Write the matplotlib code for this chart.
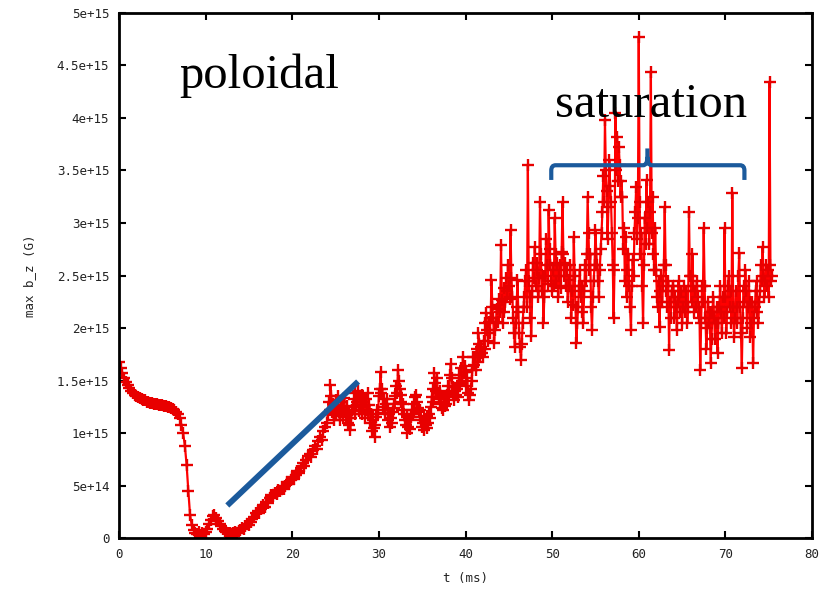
import numpy as np
import matplotlib
matplotlib.use('Agg')
from matplotlib import pyplot as plt
from matplotlib.path import Path
from matplotlib.patches import PathPatch

# max b_z in units of 1e15 G
# 0 .. 23.8 ms, sampled every 0.2 ms (one row per 2 ms)
bz_early = [
    1.68, 1.62, 1.57, 1.52, 1.49, 1.46, 1.43, 1.40, 1.38, 1.36,
    1.35, 1.34, 1.33, 1.32, 1.31, 1.31, 1.30, 1.30, 1.29, 1.29,
    1.28, 1.28, 1.28, 1.27, 1.27, 1.27, 1.26, 1.26, 1.25, 1.25,
    1.24, 1.23, 1.22, 1.20, 1.18, 1.14, 1.08, 1.00, 0.88, 0.70,
    0.45, 0.22, 0.12, 0.08, 0.05, 0.04, 0.06, 0.03, 0.05, 0.04,
    0.06, 0.09, 0.13, 0.17, 0.21, 0.22, 0.19, 0.16, 0.13, 0.11,
    0.09, 0.07, 0.06, 0.05, 0.05, 0.04, 0.05, 0.06, 0.05, 0.07,
    0.08, 0.10, 0.09, 0.11, 0.13, 0.12, 0.15, 0.18, 0.20, 0.24,
    0.26, 0.24, 0.28, 0.31, 0.30, 0.34, 0.33, 0.38, 0.41, 0.40,
    0.43, 0.42, 0.46, 0.45, 0.49, 0.47, 0.50, 0.53, 0.51, 0.55,
    0.58, 0.56, 0.60, 0.64, 0.62, 0.67, 0.71, 0.69, 0.74, 0.78,
    0.80, 0.77, 0.84, 0.88, 0.85, 0.92, 0.96, 0.93, 1.02, 1.06,
]
# 24.0 .. 75.4 ms, sampled every 0.1 ms (one row per 1 ms)
bz_late = [
    1.10, 1.18, 1.30, 1.22, 1.46, 1.35, 1.20, 1.28, 1.12, 1.24,
    1.31, 1.18, 1.27, 1.35, 1.20, 1.12, 1.25, 1.30, 1.16, 1.22,
    1.33, 1.20, 1.15, 1.26, 1.10, 1.18, 1.08, 1.03, 1.14, 1.22,
    1.25, 1.32, 1.18, 1.38, 1.26, 1.30, 1.40, 1.21, 1.34, 1.27,
    1.18, 1.36, 1.25, 1.30, 1.14, 1.32, 1.22, 1.38, 1.20, 1.27,
    1.10, 1.18, 1.02, 1.12, 1.05, 0.96, 1.08, 1.15, 1.22, 1.18,
    1.35, 1.42, 1.58, 1.38, 1.42, 1.25, 1.32, 1.19, 1.28, 1.32,
    1.22, 1.12, 1.18, 1.06, 1.14, 1.10, 1.20, 1.28, 1.24, 1.35,
    1.45, 1.38, 1.60, 1.50, 1.42, 1.30, 1.36, 1.22, 1.28, 1.18,
    1.12, 1.08, 1.15, 1.00, 1.06, 1.12, 1.04, 1.15, 1.22, 1.18,
    1.28, 1.22, 1.34, 1.36, 1.30, 1.24, 1.20, 1.15, 1.22, 1.12,
    1.06, 1.10, 1.03, 1.12, 1.08, 1.16, 1.05, 1.10, 1.18, 1.14,
    1.25, 1.34, 1.42, 1.30, 1.57, 1.48, 1.40, 1.52, 1.38, 1.32,
    1.40, 1.28, 1.35, 1.24, 1.22, 1.30, 1.26, 1.34, 1.28, 1.36,
    1.45, 1.38, 1.55, 1.66, 1.52, 1.44, 1.38, 1.31, 1.40, 1.36,
    1.42, 1.34, 1.48, 1.55, 1.46, 1.62, 1.50, 1.72, 1.58, 1.64,
    1.58, 1.45, 1.52, 1.38, 1.31, 1.36, 1.42, 1.50, 1.60, 1.72,
    1.65, 1.72, 1.60, 1.80, 1.68, 1.95, 1.85, 1.74, 1.82, 1.76,
    1.72, 1.88, 1.80, 2.05, 2.14, 1.98, 1.88, 2.06, 1.95, 2.10,
    2.46, 2.20, 2.10, 1.86, 1.98, 2.05, 2.18, 2.22, 2.06, 2.28,
    2.15, 2.79, 2.27, 2.05, 2.38, 2.15, 2.25, 2.48, 2.35, 2.60,
    2.40, 2.28, 2.93, 2.48, 2.30, 2.10, 1.95, 1.82, 2.05, 2.20,
    2.46, 2.15, 1.95, 1.82, 1.70, 1.85, 2.05, 2.20, 2.30, 2.45,
    2.55, 2.20, 3.55, 2.45, 2.30, 2.10, 1.92, 2.35, 2.62, 2.48,
    2.77, 2.40, 2.62, 2.55, 2.30, 2.48, 3.20, 2.70, 2.35, 2.50,
    2.05, 2.30, 2.50, 2.85, 2.60, 2.42, 3.12, 2.75, 2.60, 2.45,
    2.35, 2.55, 2.40, 3.05, 2.70, 2.45, 2.62, 2.30, 2.50, 2.60,
    2.38, 2.72, 3.20, 2.70, 2.50, 2.62, 2.40, 2.55, 2.25, 2.40,
    2.46, 2.60, 2.10, 2.35, 2.22, 2.87, 2.50, 2.20, 1.86, 2.05,
    2.20, 2.40, 2.55, 2.30, 2.40, 2.15, 2.05, 2.35, 2.60, 2.45,
    2.70, 3.25, 2.90, 2.55, 2.70, 2.20, 1.98, 2.30, 2.45, 2.60,
    2.93, 2.70, 2.60, 2.45, 2.30, 2.55, 2.75, 2.90, 3.10, 3.45,
    3.20, 3.98, 3.50, 3.30, 2.85, 3.15, 3.60, 3.35, 3.20, 2.90,
    2.60, 2.10, 2.55, 4.05, 3.50, 3.82, 3.40, 3.72, 3.55, 3.25,
    3.40, 3.25, 2.75, 2.95, 2.45, 2.87, 2.30, 2.55, 2.70, 2.40,
    2.20, 1.98, 2.40, 2.65, 2.50, 2.90, 3.10, 3.34, 2.85, 3.05,
    4.77, 3.20, 2.70, 2.90, 2.40, 2.05, 2.60, 3.05, 2.80, 3.41,
    2.95, 3.20, 2.80, 3.10, 4.44, 2.90, 3.25, 2.70, 2.55, 2.95,
    2.55, 2.30, 2.20, 2.45, 2.01, 2.35, 2.50, 2.25, 2.40, 2.60,
    3.15, 2.60, 2.35, 2.20, 2.45, 1.79, 2.25, 2.10, 2.35, 2.40,
    2.40, 2.10, 2.30, 2.20, 1.98, 2.25, 2.45, 2.30, 2.15, 2.35,
    2.05, 2.20, 2.40, 2.15, 2.25, 2.35, 2.05, 2.20, 3.10, 2.50,
    2.50, 2.25, 2.70, 2.40, 2.15, 2.35, 2.20, 2.45, 2.30, 2.10,
    2.20, 1.60, 2.05, 2.40, 2.25, 2.95, 2.40, 2.10, 1.80, 2.00,
    2.25, 2.05, 2.15, 1.67, 1.90, 2.15, 2.30, 2.10, 1.90, 2.05,
    2.20, 1.76, 2.05, 2.20, 2.40, 2.15, 1.95, 2.30, 2.10, 2.95,
    2.30, 1.95, 2.15, 2.40, 2.50, 2.20, 2.35, 2.05, 3.29, 2.20,
    1.91, 2.10, 2.35, 2.20, 2.05, 2.50, 2.71, 2.20, 1.95, 1.62,
    2.10, 2.40, 2.25, 2.55, 2.35, 2.00, 2.20, 2.45, 2.25, 1.91,
    2.05, 2.25, 1.67, 2.10, 2.20, 2.35, 2.45, 2.15, 2.05, 2.25,
    2.35, 2.60, 2.45, 2.77, 2.50, 2.30, 2.45, 2.60, 2.40, 2.55,
    2.30, 4.34, 2.60, 2.45, 2.50,
]

xticks = [0, 10, 20, 30, 40, 50, 60, 70, 80]
yticks = [0, 0.5, 1.0, 1.5, 2.0, 2.5, 3.0, 3.5, 4.0, 4.5, 5.0]
ytick_labels = ['0', '5e+14', '1e+15', '1.5e+15', '2e+15', '2.5e+15',
                '3e+15', '3.5e+15', '4e+15', '4.5e+15', '5e+15']

# annotations (data coords, y in 1e15)
growth_line = ([12.5, 27.6], [0.31, 1.49])
brace_x0, brace_x1, brace_xm = 49.9, 72.2, 61.0
brace_y, brace_foot, brace_tip = 3.55, 3.41, 3.71

t = np.concatenate([np.arange(len(bz_early)) * 0.2,
                    24.0 + np.arange(len(bz_late)) * 0.1])
bz = np.array(bz_early + bz_late) * 1e15

fig = plt.figure(figsize=(8.3, 5.9), dpi=100)
ax = fig.add_axes([0.1434, 0.0881, 0.8349, 0.8899])

ax.plot(t, bz, color='#ff0000', lw=1.6, marker='+', ms=8, mew=1.7,
        mec='#e80000', zorder=2)

# blue growth line
ax.plot(growth_line[0], np.array(growth_line[1]) * 1e15,
        color='#1b5a9c', lw=4.2, solid_capstyle='butt', zorder=3)

# curly brace above the saturation region
r = 0.5
verts = [
    (brace_x0, brace_foot), (brace_x0, brace_y - 0.05),
    (brace_x0, brace_y), (brace_x0 + r, brace_y),
    (brace_xm - r, brace_y),
    (brace_xm, brace_y), (brace_xm, brace_y + 0.08),
    (brace_xm, brace_tip),
    (brace_xm, brace_y + 0.08),
    (brace_xm, brace_y), (brace_xm + r, brace_y),
    (brace_x1 - r, brace_y),
    (brace_x1, brace_y), (brace_x1, brace_y - 0.05),
    (brace_x1, brace_foot),
]
codes = [Path.MOVETO, Path.LINETO,
         Path.CURVE3, Path.CURVE3,
         Path.LINETO,
         Path.CURVE3, Path.CURVE3,
         Path.LINETO,
         Path.MOVETO,
         Path.CURVE3, Path.CURVE3,
         Path.LINETO,
         Path.CURVE3, Path.CURVE3,
         Path.LINETO]
verts = [(x, y * 1e15) for x, y in verts]
ax.add_patch(PathPatch(Path(verts, codes), fill=False, edgecolor='#1b5a9c',
                       lw=3.0, capstyle='butt', zorder=3))

ax.text(7.0, 4.29e15, 'poloidal', fontsize=35, family='Liberation Serif',
        color='black', va='baseline', ha='left', zorder=4)
ax.text(50.3, 4.01e15, 'saturation', fontsize=35, family='Liberation Serif',
        color='black', va='baseline', ha='left', zorder=4)

ax.set_xlim(0, 80)
ax.set_ylim(0, 5e15)
ax.set_xticks(xticks)
ax.set_xticklabels([str(v) for v in xticks])
ax.set_yticks(np.array(yticks) * 1e15)
ax.set_yticklabels(ytick_labels)

for sp in ax.spines.values():
    sp.set_linewidth(2.0)
ax.tick_params(direction='in', length=5, width=1.5, top=True, right=True,
               labelsize=9, pad=7, colors='black')
for lab in ax.get_xticklabels() + ax.get_yticklabels():
    lab.set_family('DejaVu Sans Mono')
    lab.set_color('#222222')

ax.set_xlabel('t (ms)', family='DejaVu Sans Mono', fontsize=9, labelpad=8,
              color='#222222')
ax.set_ylabel('max b_z (G)', family='DejaVu Sans Mono', fontsize=9,
              color='#222222')
ax.yaxis.set_label_coords(-0.12, 0.5)

fig.savefig('out.png', dpi=100, facecolor='white')
